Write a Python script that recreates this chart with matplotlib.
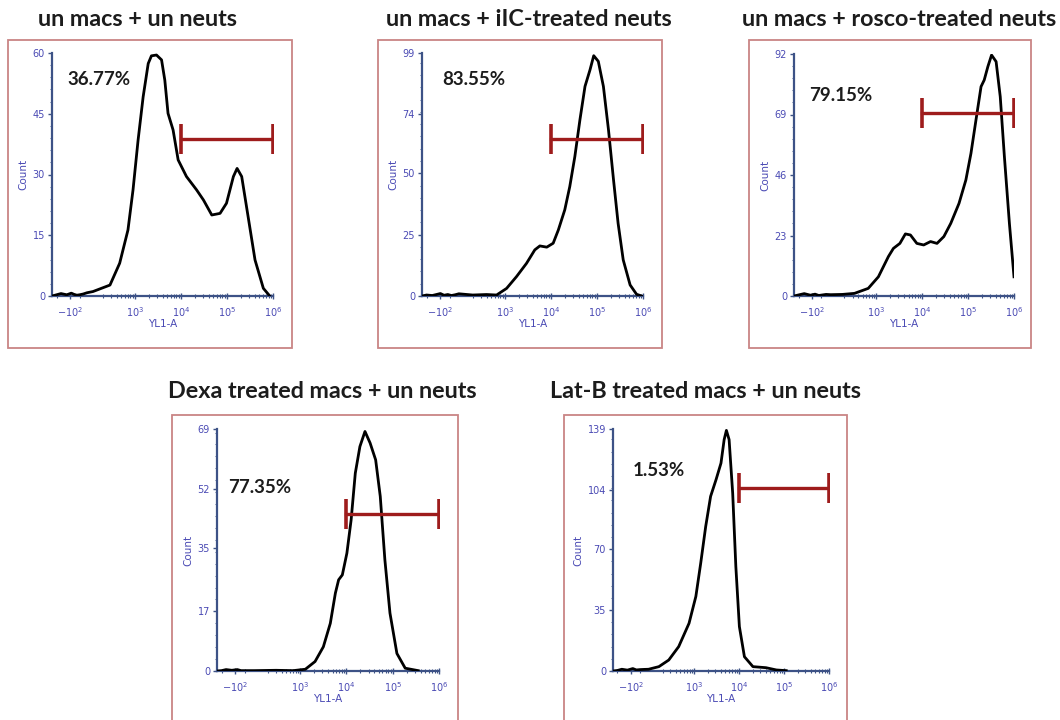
import matplotlib
matplotlib.use('Agg')
import matplotlib.pyplot as plt
from matplotlib.patches import Rectangle
from matplotlib.ticker import SymmetricalLogLocator, AutoMinorLocator

# panel titles and gate percentages
titles = ['un macs + un neuts', 'un macs + iIC-treated neuts', 'un macs + rosco-treated neuts',
          'Dexa treated macs + un neuts', 'Lat-B treated macs + un neuts']
percents = ['36.77%', '83.55%', '79.15%', '77.35%', '1.53%']

# y axis ticks for each panel (FlowJo style max count)
yticks = [[0, 15, 30, 45, 60], [0, 25, 50, 74, 99], [0, 23, 46, 69, 92],
          [0, 17, 35, 52, 69], [0, 35, 70, 104, 139]]

# gate: from 10^4 to 10^6, at this count height
gate_lo = 1e4
gate_hi = 1e6
gate_y = [38.8, 64, 69.5, 44.8, 105]

# histogram curves: YL1-A value, count
x1 = [-250, -200, -160, -120, -90, -60, -30, 0, 40, 80, 123, 288, 468, 708, 912, 1175, 1514, 1950,
      2290, 2950, 3800, 4470, 5250, 6760, 8710, 13200, 21900, 30900, 46800, 70800, 97700,
      138000, 166000, 209000, 288000, 407000, 617000, 851000]
y1 = [0, 0.3, 0.6, 0.3, 0.7, 0.4, 0.2, 0.3, 0.5, 0.8, 1.1, 2.7, 8.1, 16.3, 26.2, 38.5, 49.2, 57.4,
      59.3, 59.5, 58.3, 53.3, 45.1, 41.0, 33.6, 29.5, 26.2, 23.7, 20.0, 20.4, 22.9,
      29.5, 31.5, 29.5, 19.6, 8.9, 1.9, 0]

x2 = [-250, -200, -150, -100, -60, -20, 20, 60, 100, 200, 400, 661, 1090, 1790, 2950, 4470, 5750,
      8130, 11200, 14500, 20000, 25700, 33100, 42700, 55000, 70800, 85100, 107000, 138000,
      178000, 229000, 288000, 372000, 525000, 724000, 933000]
y2 = [0, 0.4, 0.2, 1.0, 0.3, 0.6, 0.2, 0.5, 0.9, 0.4, 0.6, 0.4, 3.1, 7.9, 13.3, 18.8, 20.4,
      19.9, 21.5, 26.9, 35.1, 44.6, 56.8, 71.8, 85.4, 92.2, 97.9, 95.6, 85.4,
      67.7, 47.3, 29.6, 14.7, 4.5, 0.7, 0]

x3 = [-250, -200, -150, -110, -70, -30, 10, 50, 100, 180, 331, 661, 1100, 1820, 2340, 3240, 4270,
      5500, 7590, 10700, 15100, 20900, 29500, 41700, 63100, 89100, 115000, 148000, 191000,
      224000, 269000, 324000, 407000, 501000, 617000, 794000, 1000000]
y3 = [0, 0.4, 0.9, 0.3, 0.7, 0.2, 0.4, 0.6, 0.5, 0.6, 1.0, 2.9, 7.3, 15.0, 18.1, 20.0, 23.6,
      23.2, 20.0, 19.4, 20.7, 20.0, 22.6, 27.6, 35.2, 44.1, 54.2, 66.9, 79.6,
      82.1, 87.2, 91.6, 89.1, 75.8, 53.0, 27.6, 7.3]

x4 = [-250, -200, -160, -120, -80, -40, 0, 100, 300, 700, 1290, 2090, 3160, 4470, 5750, 6760,
      8130, 10200, 12600, 15500, 19500, 25100, 32400, 42700, 53700, 67600, 87100, 123000,
      186000, 355000]
y4 = [0, 0.1, 0.4, 0.2, 0.4, 0.1, 0.1, 0.1, 0.2, 0.1, 0.5, 2.7, 6.9, 13.6, 22.2, 26.0,
      27.4, 33.6, 43.1, 56.4, 64.0, 68.3, 65.0, 60.2, 49.8, 31.7, 16.5, 5.0,
      0.8, 0.1]

x5 = [-250, -200, -160, -120, -80, -40, 0, 40, 95, 166, 275, 457, 776, 1100, 1410, 1820, 2340,
      3090, 3980, 4680, 5250, 6030, 7240, 8510, 10200, 13200, 20400, 39800, 67600, 112000]
y5 = [0, 0.3, 1.0, 0.5, 1.4, 0.6, 0.8, 0.9, 1.0, 2.5, 6.3, 14.0, 27.4, 42.8, 61.9, 83.0, 100.3,
      109.9, 119.4, 132.9, 138.2, 132.9, 102.2, 60.0, 25.5, 8.2, 2.5, 1.9, 0.6, 0.2]

curves = [(x1, y1), (x2, y2), (x3, y3), (x4, y4), (x5, y5)]

# layout in pixels (fig is 1060 x 720): axes box and red frame
W, H = 1060, 720
axes_px = [(52, 53, 273, 296), (422, 53, 643, 296), (794, 54, 1014, 296),
           (217, 429, 439, 671), (613, 429, 829, 671)]
frames_px = [(8, 40, 292, 348), (378, 40, 662, 348), (749, 40, 1031, 348),
             (172, 415, 458, 725), (564, 415, 847, 725)]
title_pos = [(137, 19), (529, 19), (899, 19), (322, 392), (705, 392)]
pct_pos = [(0.07, 0.89), (0.09, 0.89), (0.07, 0.83), (0.05, 0.76), (0.09, 0.83)]

axis_col = '#3d5286'
label_col = '#4a4ab4'
frame_col = '#c98585'
gate_col = '#9e1c1c'

fig = plt.figure(figsize=(10.6, 7.2), dpi=100)

for i in range(5):
    fx0, fy0, fx1, fy1 = frames_px[i]
    fig.patches.append(Rectangle((fx0 / W, 1 - fy1 / H), (fx1 - fx0) / W, (fy1 - fy0) / H,
                                 transform=fig.transFigure, fill=False,
                                 edgecolor=frame_col, linewidth=1.3))
    tx, ty = title_pos[i]
    fig.text(tx / W, 1 - ty / H, titles[i], ha='center', va='center',
             fontfamily='Lato', fontweight='bold', fontsize=16.8, color='#1c1c1c')

    ax0, ay0, ax1, ay1 = axes_px[i]
    ax = fig.add_axes([ax0 / W, 1 - ay1 / H, (ax1 - ax0) / W, (ay1 - ay0) / H])
    x, y = curves[i]
    ax.plot(x, y, color='black', linewidth=2.0, zorder=3)

    # gate bar with end caps
    ax.plot([gate_lo, gate_hi], [gate_y[i], gate_y[i]], color=gate_col, linewidth=2.4,
            marker='|', markersize=22, markeredgewidth=2.6, zorder=4)

    ax.set_xscale('symlog', linthresh=100, linscale=0.18)
    ax.set_xlim(-251, 1e6)
    ax.set_ylim(0, yticks[i][-1])
    ax.set_xticks([-100, 1e3, 1e4, 1e5, 1e6])
    ax.set_xticklabels([r'$-10^2$', r'$10^3$', r'$10^4$', r'$10^5$', r'$10^6$'])
    ax.xaxis.set_minor_locator(SymmetricalLogLocator(linthresh=100, base=10, subs=range(2, 10)))
    ax.set_yticks(yticks[i])
    ax.yaxis.set_minor_locator(AutoMinorLocator(5))

    for s in ['top', 'right']:
        ax.spines[s].set_visible(False)
    for s in ['left', 'bottom']:
        ax.spines[s].set_color(axis_col)
        ax.spines[s].set_linewidth(1.6)
    ax.tick_params(axis='x', which='major', direction='inout', length=5, width=1,
                   color=axis_col, labelcolor=label_col, labelsize=7, pad=4)
    ax.tick_params(axis='x', which='minor', direction='inout', length=3, width=0.8, color=axis_col)
    ax.tick_params(axis='y', which='major', direction='out', length=3, width=1,
                   color=axis_col, labelcolor=label_col, labelsize=7, pad=2)
    ax.tick_params(axis='y', which='minor', direction='out', length=1.5, width=0.6, color=axis_col)
    ax.set_xlabel('YL1-A', color=label_col, fontsize=7.5, labelpad=0)
    ax.set_ylabel('Count', color=label_col, fontsize=7.5, labelpad=3)
    ax.patch.set_alpha(0)

    ax.text(pct_pos[i][0], pct_pos[i][1], percents[i], transform=ax.transAxes,
            ha='left', va='center', fontfamily='Lato', fontweight='bold',
            fontsize=13.5, color='#1c1c1c')

fig.savefig('out.png', dpi=100, facecolor='white')
